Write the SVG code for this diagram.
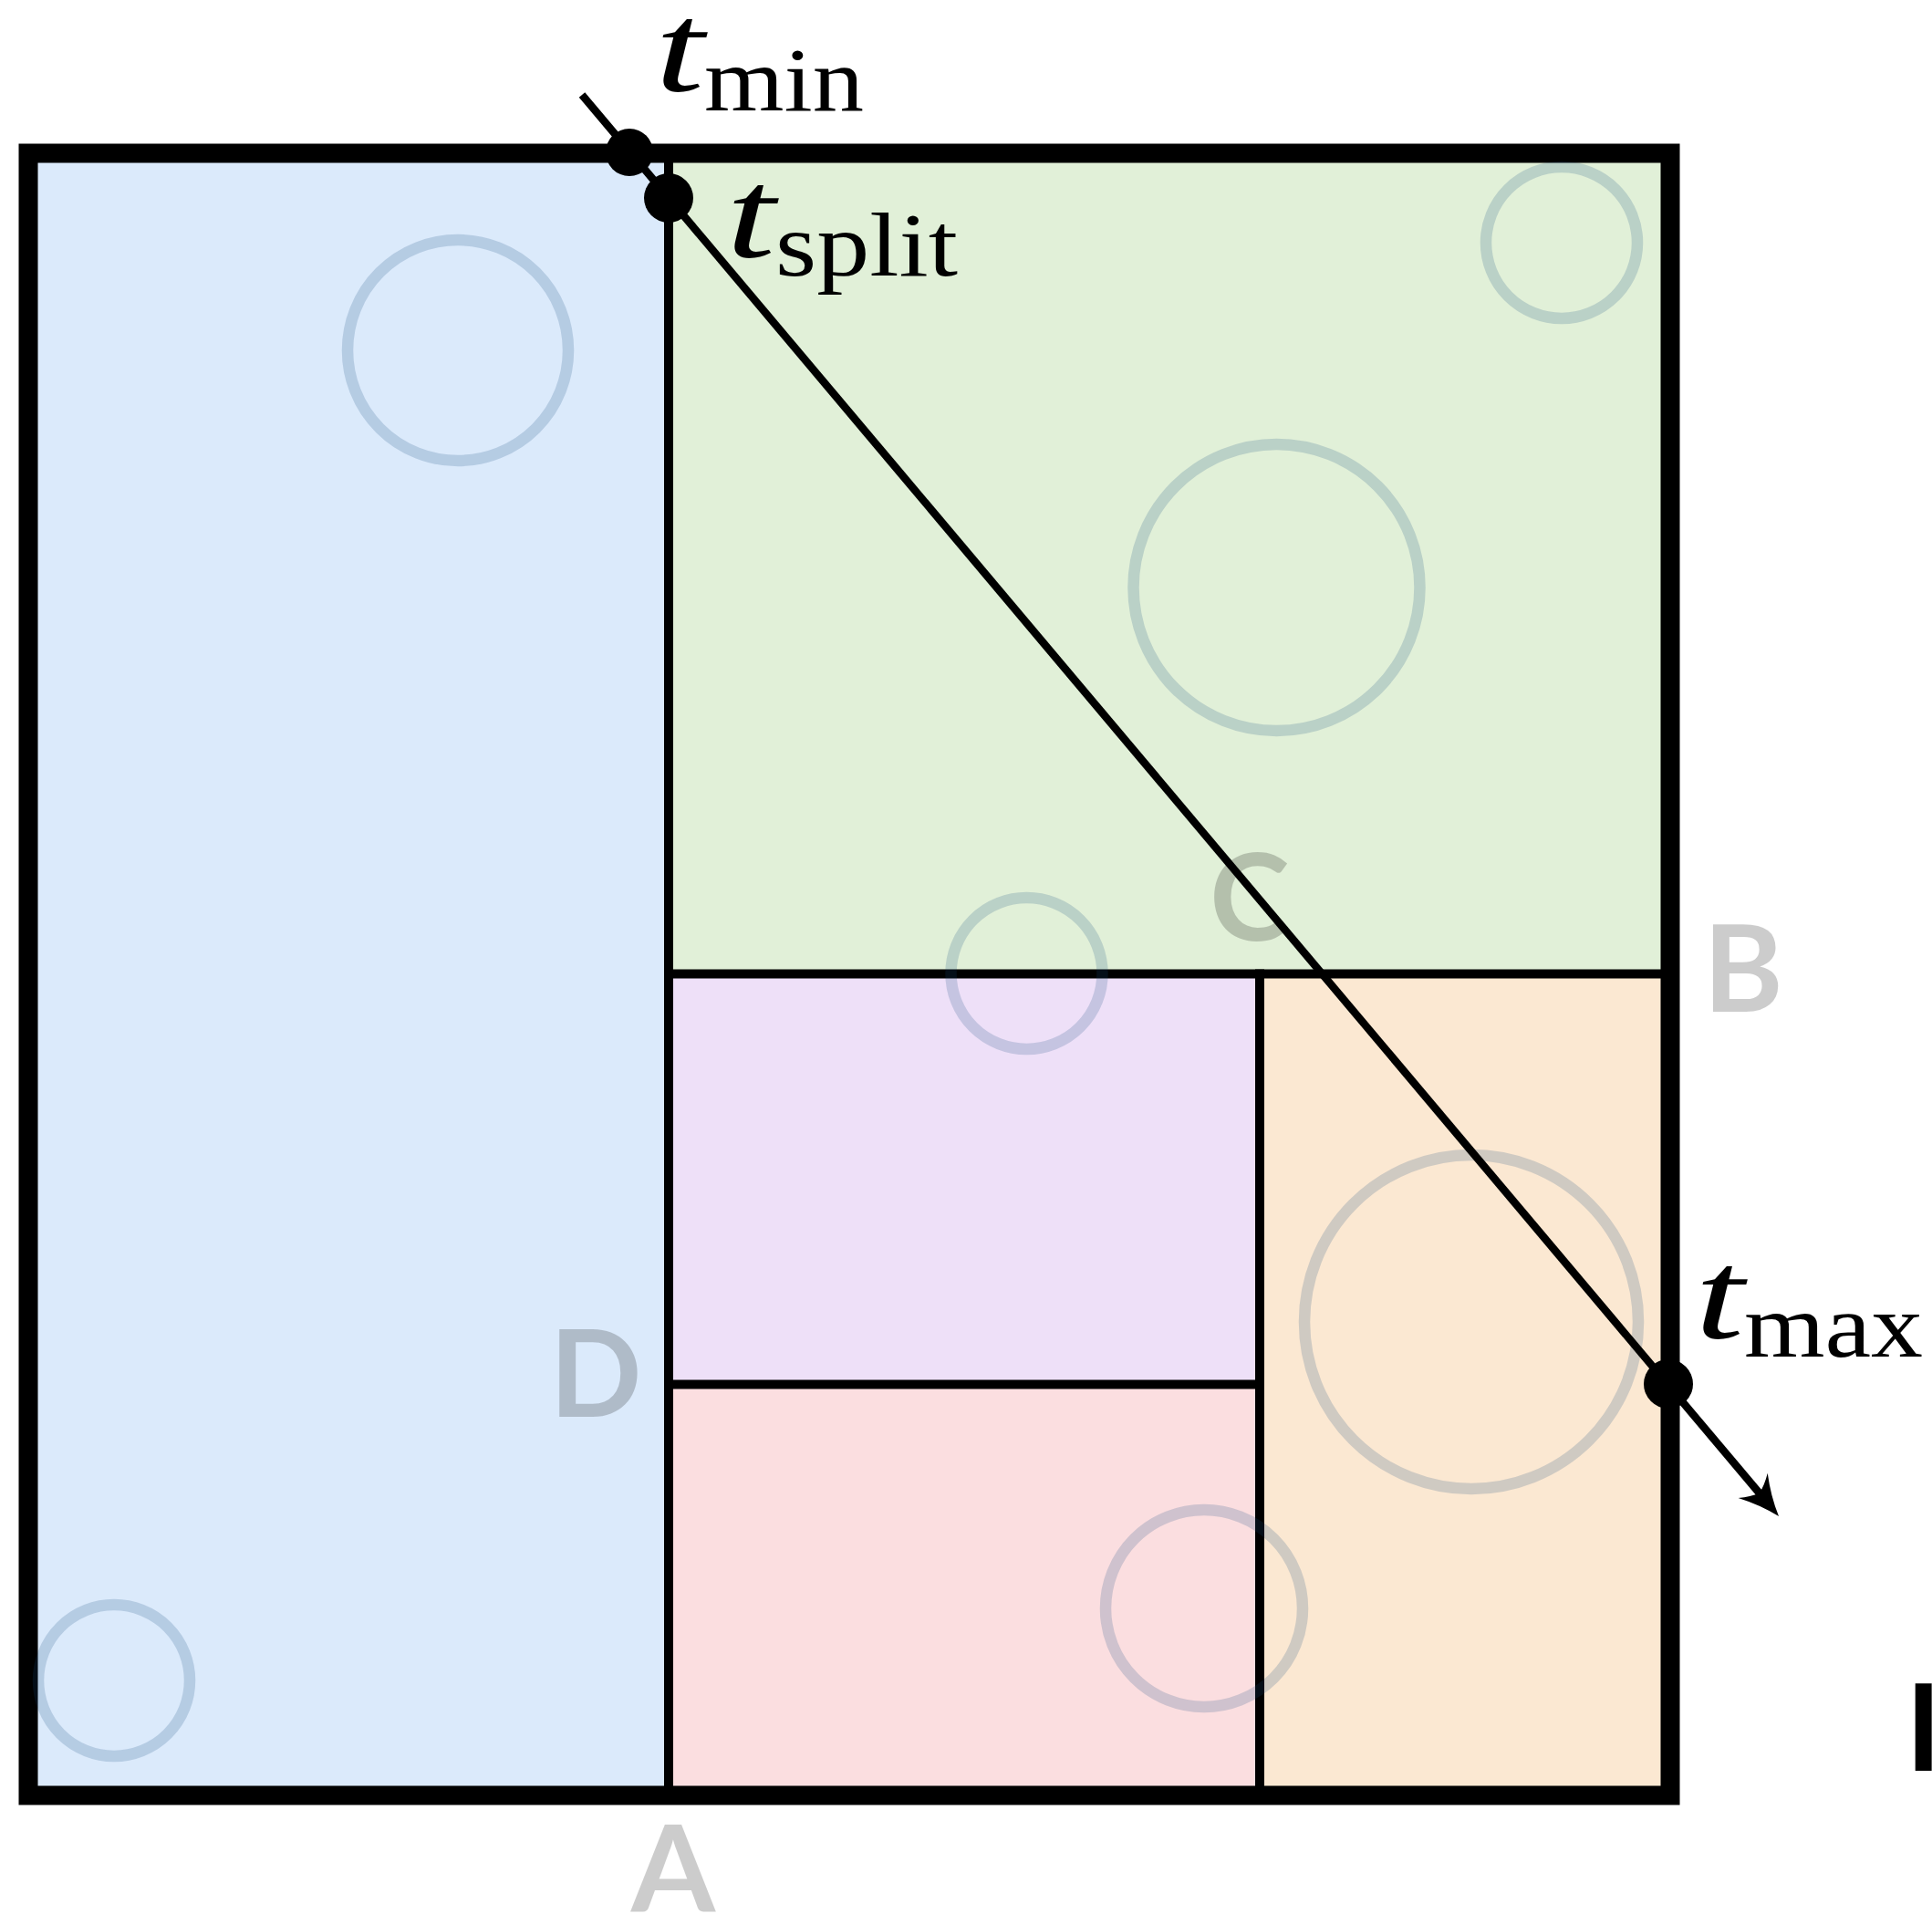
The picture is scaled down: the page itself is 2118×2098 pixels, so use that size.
<svg xmlns="http://www.w3.org/2000/svg" width="2118" height="2098" viewBox="0 0 2118 2098">
<style>
.bg{fill:#ffffff}
.inner{stroke:#000;stroke-width:10;stroke-linecap:square;fill:none}
.outer{stroke:#000;stroke-width:21;fill:none;stroke-linejoin:miter}
.obj{fill:none;stroke:rgb(20,76,130);stroke-opacity:0.19;stroke-width:12.5}
.lbl{font-family:Lato,"Open Sans",sans-serif;font-weight:700;font-size:133px;fill:#000;fill-opacity:0.2;text-anchor:middle}
.ray{stroke:#000;stroke-width:8.5;fill:none}
.dot{fill:#000}
.mi{font-family:"Liberation Serif","Times New Roman",serif;font-style:italic;font-size:140px;fill:#000}
.sub{font-family:"Liberation Serif","Times New Roman",serif;font-size:100px;fill:#000}
</style>
<defs>
<marker id="arr" markerUnits="userSpaceOnUse" orient="auto" refX="0" refY="0" markerWidth="80" markerHeight="80" viewBox="-40 -40 80 80" overflow="visible">
<path d="M30,0 Q8,-7 -14,-21 Q-6,-10 -3,0 Q-6,10 -14,21 Q8,7 30,0 Z" fill="#000"/>
</marker>
</defs>
<rect class="bg" x="0" y="0" width="2118" height="2098"/>
<g id="region-left">
<rect x="31" y="168" width="702" height="1800" fill="#dbeafb"/>
</g>
<g id="region-top-right">
<rect x="733" y="168" width="1098" height="899.5" fill="#e1f0d8"/>
</g>
<g id="region-purple">
<rect x="733" y="1067.5" width="648" height="450" fill="#eee0f8"/>
</g>
<g id="region-pink">
<rect x="733" y="1517.5" width="648" height="450.5" fill="#fbdee0"/>
</g>
<g id="region-orange">
<rect x="1381" y="1067.5" width="450" height="900.5" fill="#fbe8d2"/>
</g>
<g id="splits">
<line class="inner" x1="733" y1="168" x2="733" y2="1968"/>
<line class="inner" x1="733" y1="1067.5" x2="1831" y2="1067.5"/>
<line class="inner" x1="1381" y1="1067.5" x2="1381" y2="1968"/>
<line class="inner" x1="733" y1="1517.5" x2="1381" y2="1517.5"/>
</g>
<g id="bounds">
<rect class="outer" x="31" y="168" width="1800" height="1800"/>
</g>
<g id="objects">
<circle class="obj" cx="502" cy="384" r="121"/>
<circle class="obj" cx="125" cy="1842" r="83"/>
<circle class="obj" cx="1712" cy="266" r="83"/>
<circle class="obj" cx="1399.5" cy="644" r="157"/>
<circle class="obj" cx="1125.5" cy="1067" r="83"/>
<circle class="obj" cx="1613" cy="1449" r="183"/>
<circle class="obj" cx="1320" cy="1763" r="108"/>
</g>
<g id="labels">
<text class="lbl" x="738" y="2096">A</text>
<text class="lbl" x="1911" y="1109">B</text>
<text class="lbl" x="1370" y="1031">C</text>
<text class="lbl" x="653" y="1553">D</text>
<text class="lbl" x="2089" y="1941" style="fill-opacity:1;text-anchor:start">I</text>
</g>
<g id="connectors">
<path class="ray" d="M638,104 L1930.7,1639.1" marker-end="url(#arr)"/>
</g>
<g id="hit-tmin">
<circle class="dot" cx="690" cy="167" r="26"/>
<text class="mi" x="718" y="100" textLength="54" lengthAdjust="spacingAndGlyphs">t</text>
<text class="sub" x="772" y="121" textLength="175" lengthAdjust="spacingAndGlyphs">min</text>
</g>
<g id="hit-tsplit">
<circle class="dot" cx="733" cy="217" r="27"/>
<text class="mi" x="796" y="282" textLength="54" lengthAdjust="spacingAndGlyphs">t</text>
<text class="sub" x="850" y="302" textLength="200" lengthAdjust="spacingAndGlyphs">split</text>
</g>
<g id="hit-tmax">
<circle class="dot" cx="1829" cy="1517" r="27"/>
<text class="mi" x="1858" y="1467" textLength="54" lengthAdjust="spacingAndGlyphs">t</text>
<text class="sub" x="1912" y="1487" textLength="196" lengthAdjust="spacingAndGlyphs">max</text>
</g>
</svg>
